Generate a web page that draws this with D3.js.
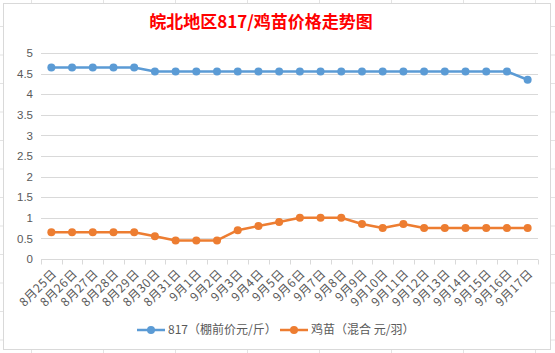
<!DOCTYPE html>
<html lang="zh">

<head>
    <meta charset="UTF-8">
    <title>皖北地区817/鸡苗价格走势图</title>
    <script src="https://d3js.org/d3.v7.min.js"></script>
    <style>
        body {
            margin: 0;
            background: #fff;
        }

        svg {
            display: block;
            font-family: "Noto Sans CJK SC", "Noto Sans", sans-serif;
        }
    </style>
</head>

<body>
    <svg id="chart" width="555" height="353"></svg>

    <script>
        // data
        const dates = ["8月25日", "8月26日", "8月27日", "8月28日", "8月29日", "8月30日", "8月31日",
            "9月1日", "9月2日", "9月3日", "9月4日", "9月5日", "9月6日", "9月7日", "9月8日",
            "9月9日", "9月10日", "9月11日", "9月12日", "9月13日", "9月14日", "9月15日", "9月16日", "9月17日"];
        const price817 = [4.65, 4.65, 4.65, 4.65, 4.65, 4.55, 4.55, 4.55, 4.55, 4.55, 4.55, 4.55,
            4.55, 4.55, 4.55, 4.55, 4.55, 4.55, 4.55, 4.55, 4.55, 4.55, 4.55, 4.35];
        const chickPrice = [0.65, 0.65, 0.65, 0.65, 0.65, 0.55, 0.45, 0.45, 0.45, 0.7, 0.8, 0.9,
            1, 1, 1, 0.85, 0.75, 0.85, 0.75, 0.75, 0.75, 0.75, 0.75, 0.75];
        const yTicks = [0, 0.5, 1, 1.5, 2, 2.5, 3, 3.5, 4, 4.5, 5];
        const seriesNames = ["817（棚前价元/斤）", "鸡苗（混合 元/羽）"];
        const colors = ["#5B9BD5", "#ED7D31"];

        const svg = d3.select("#chart");

        // spreadsheet grid peeking out around the chart
        const sheet = svg.append("g").attr("stroke", "#e3e3e3").attr("stroke-width", 1);
        d3.range(31.5, 555, 72).forEach(x => {
            sheet.append("line").attr("x1", x).attr("x2", x).attr("y1", 0).attr("y2", 3);
            sheet.append("line").attr("x1", x).attr("x2", x).attr("y1", 350).attr("y2", 353);
        });
        d3.range(26.5, 353, 28.5).forEach(y => {
            sheet.append("line").attr("x1", 0).attr("x2", 3).attr("y1", y).attr("y2", y);
            sheet.append("line").attr("x1", 551).attr("x2", 555).attr("y1", y).attr("y2", y);
        });

        // chart frame
        svg.append("rect")
            .attr("x", 3.5).attr("y", 3.5)
            .attr("width", 547).attr("height", 346)
            .attr("fill", "#fff")
            .attr("stroke", "#d9d9d9");

        // title
        svg.append("text")
            .attr("x", 261).attr("y", 28)
            .attr("text-anchor", "middle")
            .attr("fill", "#ff0000")
            .attr("font-size", 17)
            .attr("font-weight", "bold")
            .text("皖北地区817/鸡苗价格走势图");

        const x = d3.scaleBand()
            .domain(dates)
            .range([41, 538]);

        const y = d3.scaleLinear()
            .domain([0, 5])
            .range([259, 53]);

        // horizontal grid
        svg.append("g")
            .selectAll("line")
            .data(yTicks.filter(d => d > 0))
            .join("line")
            .attr("x1", 41).attr("x2", 538)
            .attr("y1", d => Math.round(y(d)) + 0.5)
            .attr("y2", d => Math.round(y(d)) + 0.5)
            .attr("stroke", "#d9d9d9");

        // y axis labels
        const yAxis = svg.append("g")
            .attr("transform", "translate(41,0)")
            .call(d3.axisLeft(y).tickValues(yTicks).tickSize(0).tickPadding(8).tickFormat(d3.format("")));
        yAxis.select(".domain").remove();
        yAxis.selectAll("text")
            .attr("fill", "#595959")
            .attr("font-size", 11.5)
            .attr("font-family", "Liberation Sans, sans-serif");

        // x axis with tick marks between categories
        const xAxisG = svg.append("g").attr("transform", `translate(0,${Math.round(y(0)) + 0.5})`);
        xAxisG.append("line")
            .attr("x1", 41).attr("x2", 538)
            .attr("stroke", "#d9d9d9");
        xAxisG.selectAll("line.tick")
            .data(d3.range(dates.length + 1))
            .join("line")
            .attr("class", "tick")
            .attr("x1", i => Math.round(41 + i * x.step()) + 0.5)
            .attr("x2", i => Math.round(41 + i * x.step()) + 0.5)
            .attr("y1", 0).attr("y2", 5)
            .attr("stroke", "#d9d9d9");
        xAxisG.selectAll("text")
            .data(dates)
            .join("text")
            .attr("transform", d => `translate(${x(d) + x.bandwidth() / 2 + 3},12) rotate(-45)`)
            .attr("text-anchor", "end")
            .attr("dy", "0.35em")
            .attr("fill", "#595959")
            .attr("font-size", 12)
            .attr("letter-spacing", 0.5)
            .text(d => d);

        // lines + markers
        const line = d3.line()
            .x((d, i) => x(dates[i]) + x.bandwidth() / 2)
            .y(d => y(d));

        [price817, chickPrice].forEach((values, k) => {
            svg.append("path")
                .attr("fill", "none")
                .attr("stroke", colors[k])
                .attr("stroke-width", 2.5)
                .attr("stroke-linejoin", "round")
                .attr("d", line(values));
            svg.append("g")
                .selectAll("circle")
                .data(values)
                .join("circle")
                .attr("cx", (d, i) => x(dates[i]) + x.bandwidth() / 2)
                .attr("cy", d => y(d))
                .attr("r", 4)
                .attr("fill", colors[k]);
        });

        // legend
        const legendX = [137, 280];
        seriesNames.forEach((name, k) => {
            const g = svg.append("g").attr("transform", `translate(${legendX[k]},330)`);
            g.append("line")
                .attr("x1", 0).attr("x2", 28)
                .attr("stroke", colors[k])
                .attr("stroke-width", 2.5);
            g.append("circle")
                .attr("cx", 14).attr("r", 4)
                .attr("fill", colors[k]);
            g.append("text")
                .attr("x", 31).attr("dy", "0.35em")
                .attr("fill", "#595959")
                .attr("font-size", 12)
                .text(name);
        });
    </script>
</body>

</html>
